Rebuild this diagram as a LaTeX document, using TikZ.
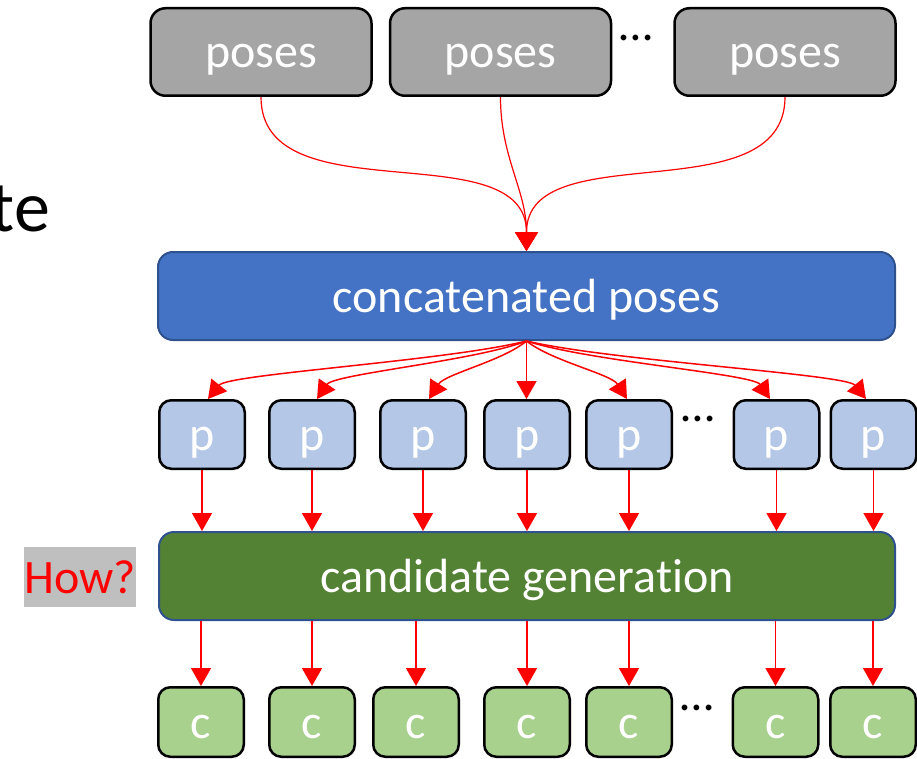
\documentclass[tikz,border=0pt]{standalone}
\usepackage{fontspec}
\setmainfont{Carlito}[Ligatures=NoCommon]
\usetikzlibrary{arrows.meta}
\definecolor{posegray}{HTML}{A5A5A5}
\definecolor{catblue}{HTML}{4472C4}
\definecolor{edgeblue}{HTML}{2F528F}
\definecolor{plight}{HTML}{B4C7E7}
\definecolor{gengreen}{HTML}{548235}
\definecolor{clight}{HTML}{A9D18E}
\definecolor{howgray}{HTML}{BFBFBF}
\definecolor{arrred}{HTML}{FF0000}
\begin{document}
\begin{tikzpicture}[x=1pt,y=-1pt,
  txt/.style={font=\fontsize{48}{58}\selectfont, text height=43pt, text depth=11pt, inner sep=0pt},
  blackbox/.style={txt, draw=black, line width=2.5pt, text=white},
  posebox/.style={blackbox, fill=posegray, rounded corners=15pt, minimum width=221pt, minimum height=87.5pt},
  pbox/.style={blackbox, fill=plight, rounded corners=12pt, minimum width=85.5pt, minimum height=68.5pt},
  cbox/.style={blackbox, fill=clight, rounded corners=12pt, minimum width=85.5pt, minimum height=69.5pt},
  widebox/.style={txt, draw=edgeblue, line width=2pt, text=white, rounded corners=15pt, minimum width=737pt, minimum height=88pt},
  dots/.style={font=\fontsize{48}{58}\selectfont, inner sep=0pt, anchor=base},
  arr/.style={draw=arrred, line width=1.5pt, -{Triangle[width=20pt,length=18pt]}},
  toparr/.style={draw=arrred, line width=1.2pt, -{Triangle[width=23pt,length=19pt]}}
]
\useasboundingbox (0,0) rectangle (917,759);

% left cut-off title text and label
\node[font=\fontsize{72}{86}\selectfont, anchor=base east, inner sep=0pt] (te) at (50,232) {te};
\node[txt, fill=howgray, text=arrred, minimum width=112pt, minimum height=60pt] (how) at (80,577) {How?};

% top row
\node[posebox] (pose1) at (261,52) {poses};
\node[posebox] (pose2) at (500.5,52) {poses};
\node[posebox] (pose3) at (785,52) {poses};
\node[dots] (dtop) at (636,41) {…};

% concatenated
\node[widebox, fill=catblue] (cat) at (526.5,296) {concatenated poses};

% p row
\node[pbox] (p1) at (202,434.5) {p};
\node[pbox] (p2) at (312,434.5) {p};
\node[pbox] (p3) at (423,434.5) {p};
\node[pbox] (p4) at (527,434.5) {p};
\node[pbox] (p5) at (629,434.5) {p};
\node[dots] (dp) at (698,421) {…};
\node[pbox] (p6) at (776.5,434.5) {p};
\node[pbox] (p7) at (873.5,434.5) {p};

% generation
\node[widebox, fill=gengreen, minimum width=736pt] (gen) at (527,576) {candidate generation};

% c row
\node[cbox] (c1) at (201,722) {c};
\node[cbox] (c2) at (312,722) {c};
\node[cbox] (c3) at (416,722) {c};
\node[cbox] (c4) at (527,722) {c};
\node[cbox] (c5) at (629,722) {c};
\node[dots] (dc) at (697,710) {…};
\node[cbox] (c6) at (775.5,722) {c};
\node[cbox] (c7) at (873,722) {c};

% arrows poses -> concatenated
\draw[toparr] (pose1.south) to[out=-90,in=90] (cat.north);
\draw[toparr] (pose2.south) to[out=-90,in=90] (cat.north);
\draw[toparr] (pose3.south) to[out=-90,in=90] (cat.north);

% arrows concatenated -> p
\draw[arr] (cat.south) .. controls +(-80,20) and +(20,-25) .. ([xshift=6pt]p1.north);
\draw[arr] (cat.south) .. controls +(-52,20) and +(17,-25) .. ([xshift=5pt]p2.north);
\draw[arr] (cat.south) .. controls +(-24,20) and +(16,-25) .. ([xshift=6pt]p3.north);
\draw[arr] (cat.south) -- (cat.south |- p4.north);
\draw[arr] (cat.south) .. controls +(25,20) and +(-16,-25) .. ([xshift=-2pt]p5.north);
\draw[arr] (cat.south) .. controls +(61,20) and +(-17,-25) .. ([xshift=-6.5pt]p6.north);
\draw[arr] (cat.south) .. controls +(85,20) and +(-20,-25) .. ([xshift=-7.5pt]p7.north);

% arrows p -> generation
\foreach \n in {p1,p2,p3,p4,p5,p6,p7}
  \draw[arr] (\n.south) -- (\n.south |- gen.north);

% arrows generation -> c
\foreach \n in {c1,c2,c3,c4,c5,c6,c7}
  \draw[arr] (\n.north |- gen.south) -- (\n.north);
\end{tikzpicture}
\end{document}
